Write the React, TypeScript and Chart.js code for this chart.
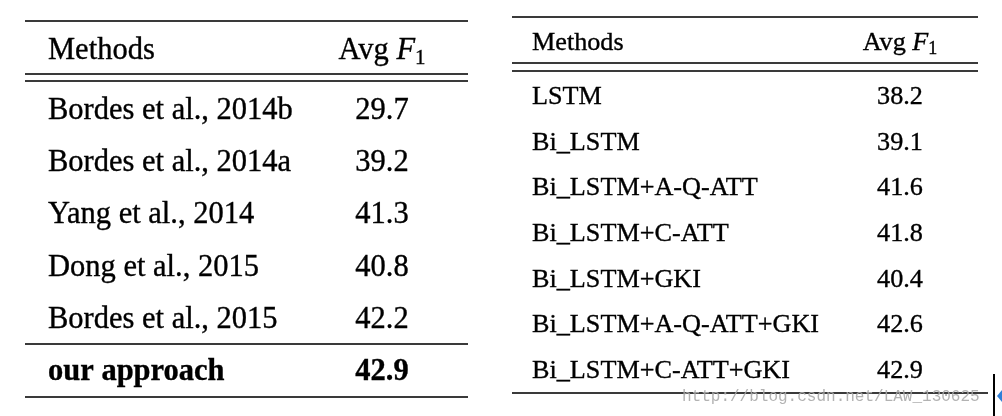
import React, { useEffect, useRef } from "react";
import { Chart, registerables } from "chart.js";

Chart.register(...registerables);

// ---- data ----
const HEADER_METHOD = "Methods";
const HEADER_SCORE = ["Avg ", "F", "1"]; // "Avg F" with subscript 1
const LEFT_METHODS = [
  "Bordes et al., 2014b",
  "Bordes et al., 2014a",
  "Yang et al., 2014",
  "Dong et al., 2015",
  "Bordes et al., 2015",
  "our approach",
];
const LEFT_SCORES = [29.7, 39.2, 41.3, 40.8, 42.2, 42.9];
const LEFT_BOLD = [false, false, false, false, false, true];

const RIGHT_METHODS = [
  "LSTM",
  "Bi_LSTM",
  "Bi_LSTM+A-Q-ATT",
  "Bi_LSTM+C-ATT",
  "Bi_LSTM+GKI",
  "Bi_LSTM+A-Q-ATT+GKI",
  "Bi_LSTM+C-ATT+GKI",
];
const RIGHT_SCORES = [38.2, 39.1, 41.6, 41.8, 40.4, 42.6, 42.9];
const RIGHT_BOLD = [false, false, false, false, false, false, false];

const WATERMARK = "http://blog.csdn.net/LAW_130625";

// ---- layout / style ----
type Rule = { y: number; x0: number; x1: number };
type Cfg = {
  left: number;
  width: number;
  height: number;
  fontSize: number;
  methodsX: number;
  scoreX: number;
  yMin: number;
  yMax: number;
  headerY: number;
  rules: Rule[];
  watermark?: boolean;
};

const LEFT_CFG: Cfg = {
  left: 0,
  width: 500,
  height: 416,
  fontSize: 30.5,
  methodsX: 48,
  scoreX: 382,
  yMin: -2.28,
  yMax: 5.69,
  headerY: -1.149,
  rules: [
    { y: -1.883, x0: 25, x1: 468 },
    { y: -0.862, x0: 25, x1: 468 },
    { y: -0.728, x0: 25, x1: 468 },
    { y: 4.31, x0: 25, x1: 468 },
    { y: 5.326, x0: 25, x1: 468 },
  ],
};

const RIGHT_CFG: Cfg = {
  left: 500,
  width: 502,
  height: 416,
  fontSize: 26.2,
  methodsX: 32,
  scoreX: 400,
  yMin: -2.277,
  yMax: 6.832,
  headerY: -1.182,
  rules: [
    { y: -1.912, x0: 12, x1: 478 },
    { y: -0.898, x0: 12, x1: 478 },
    { y: -0.723, x0: 12, x1: 478 },
    { y: 6.328, x0: 12, x1: 488 },
  ],
  watermark: true,
};

const SERIF = '"Liberation Serif", "Times New Roman", serif';

function TableChart({
  cfg,
  methods,
  scores,
  bold,
}: {
  cfg: Cfg;
  methods: string[];
  scores: number[];
  bold: boolean[];
}) {
  const ref = useRef<HTMLCanvasElement | null>(null);

  useEffect(() => {
    if (!ref.current) return;
    const fs = cfg.fontSize;

    const tablePlugin = {
      id: "tablePlugin",
      beforeDraw(chart: any) {
        const ctx = chart.ctx;
        ctx.save();
        ctx.fillStyle = "#ffffff";
        ctx.fillRect(0, 0, chart.width, chart.height);
        ctx.restore();
      },
      afterDatasetsDraw(chart: any) {
        const ctx = chart.ctx as CanvasRenderingContext2D;
        const xs = chart.scales.x;
        const ys = chart.scales.y;
        ctx.save();
        // rules
        ctx.strokeStyle = "#3a3a3a";
        ctx.lineWidth = 2;
        cfg.rules.forEach((r) => {
          const y = Math.round(ys.getPixelForValue(r.y));
          ctx.beginPath();
          ctx.moveTo(xs.getPixelForValue(r.x0), y);
          ctx.lineTo(xs.getPixelForValue(r.x1), y);
          ctx.stroke();
        });

        ctx.fillStyle = "#000000";
        ctx.strokeStyle = "#000000";
        ctx.lineWidth = 0.35;
        ctx.textBaseline = "alphabetic";
        const put = (t: string, x: number, y: number) => {
          ctx.fillText(t, x, y);
          ctx.strokeText(t, x, y);
        };

        // header
        const hy = ys.getPixelForValue(cfg.headerY);
        ctx.font = `${fs}px ${SERIF}`;
        ctx.textAlign = "left";
        put(HEADER_METHOD, xs.getPixelForValue(cfg.methodsX), hy);

        const regFont = `${fs}px ${SERIF}`;
        const itFont = `italic ${fs}px ${SERIF}`;
        const subFont = `${Math.round(fs * 0.7)}px ${SERIF}`;
        ctx.font = regFont;
        const w1 = ctx.measureText(HEADER_SCORE[0]).width;
        ctx.font = itFont;
        const w2 = ctx.measureText(HEADER_SCORE[1]).width;
        ctx.font = subFont;
        const w3 = ctx.measureText(HEADER_SCORE[2]).width;
        const total = w1 + w2 + w3;
        let hx = xs.getPixelForValue(cfg.scoreX) - total / 2;
        ctx.font = regFont;
        put(HEADER_SCORE[0], hx, hy);
        hx += w1;
        ctx.font = itFont;
        put(HEADER_SCORE[1], hx, hy);
        hx += w2;
        ctx.font = subFont;
        put(HEADER_SCORE[2], hx, hy + fs * 0.15);

        // rows from dataset elements
        const meta = chart.getDatasetMeta(0);
        meta.data.forEach((pt: any, i: number) => {
          const f = `${bold[i] ? "bold " : ""}${fs}px ${SERIF}`;
          ctx.font = f;
          ctx.textAlign = "left";
          put(methods[i], xs.getPixelForValue(cfg.methodsX), pt.y);
          ctx.textAlign = "center";
          put(scores[i].toFixed(1), pt.x, pt.y);
        });

        if (cfg.watermark) {
          ctx.textAlign = "left";
          ctx.font = `16px "Liberation Mono", monospace`;
          ctx.fillStyle = "rgba(170,170,170,0.9)";
          ctx.fillText(WATERMARK, 182, 401);
          ctx.strokeStyle = "#000000";
          ctx.lineWidth = 2;
          ctx.beginPath();
          ctx.moveTo(494, 374);
          ctx.lineTo(494, 416);
          ctx.stroke();
          ctx.fillStyle = "#2f7fd8";
          ctx.beginPath();
          ctx.moveTo(497, 396);
          ctx.lineTo(502, 390);
          ctx.lineTo(502, 402);
          ctx.closePath();
          ctx.fill();
        }
        ctx.restore();
      },
    };

    const chart = new Chart(ref.current, {
      type: "scatter",
      data: {
        datasets: [
          {
            data: scores.map((_, i) => ({ x: cfg.scoreX, y: i })),
            pointRadius: 0,
            pointHoverRadius: 0,
          },
        ],
      },
      options: {
        responsive: false,
        animation: false,
        events: [],
        layout: { padding: 0 },
        plugins: {
          legend: { display: false },
          tooltip: { enabled: false },
          title: { display: false },
        },
        scales: {
          x: { type: "linear", display: false, min: 0, max: cfg.width },
          y: {
            type: "linear",
            display: false,
            reverse: true,
            min: cfg.yMin,
            max: cfg.yMax,
          },
        },
      },
      plugins: [tablePlugin],
    } as any);

    return () => chart.destroy();
  }, [cfg, methods, scores, bold]);

  return (
    <canvas
      ref={ref}
      width={cfg.width}
      height={cfg.height}
      style={{
        position: "absolute",
        left: cfg.left,
        top: 0,
        width: cfg.width,
        height: cfg.height,
        display: "block",
      }}
    />
  );
}

export default function App() {
  return (
    <div
      style={{
        position: "absolute",
        left: 0,
        top: 0,
        width: 1002,
        height: 416,
        background: "#ffffff",
        overflow: "hidden",
      }}
    >
      <TableChart cfg={LEFT_CFG} methods={LEFT_METHODS} scores={LEFT_SCORES} bold={LEFT_BOLD} />
      <TableChart cfg={RIGHT_CFG} methods={RIGHT_METHODS} scores={RIGHT_SCORES} bold={RIGHT_BOLD} />
    </div>
  );
}
